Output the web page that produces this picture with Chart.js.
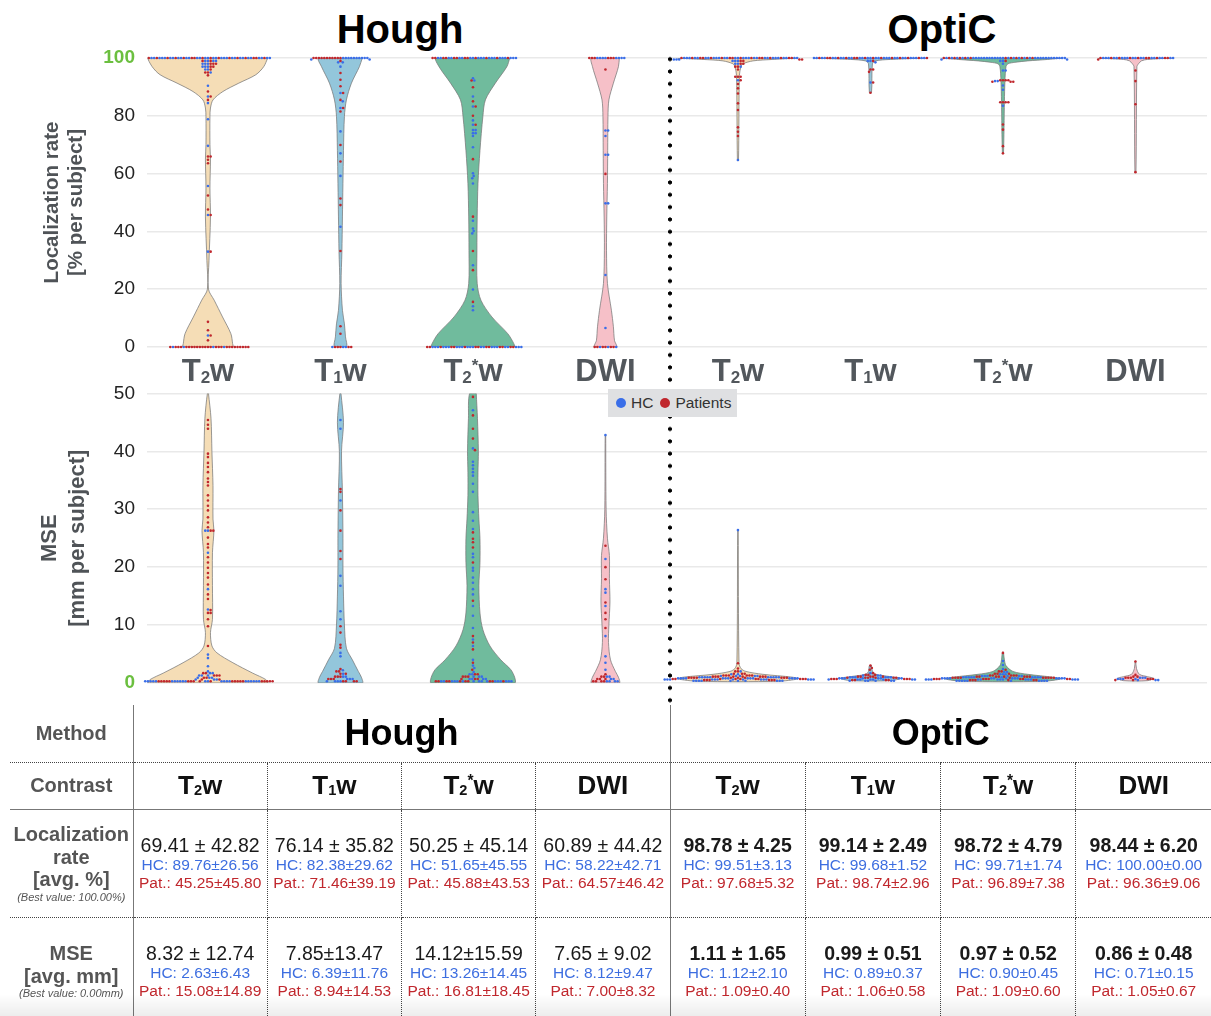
<!DOCTYPE html>
<html>
<head>
<meta charset="utf-8">
<script src="https://cdn.jsdelivr.net/npm/chart.js@4.4.1/dist/chart.umd.min.js"></script>
<style>
  body { margin: 0; width: 1211px; height: 1016px; position: relative; overflow: hidden; background: #fff;
         font-family: 'Liberation Sans', Arial, sans-serif; }
  canvas { position: absolute; left: 0; }
  .ttl { position: absolute; top: 9px; width: 300px; text-align: center; font: bold 40px/40px 'Liberation Sans', Arial, sans-serif; color: #000; }
  #sep { position: absolute; left: 668px; top: 53px; width: 4px; height: 654px;
         background: radial-gradient(circle, #000 1.7px, rgba(0,0,0,0) 2.3px); background-size: 4px 12.33px; }
  #legend { position: absolute; left: 608px; top: 389px; width: 129px; height: 28px; background: #dfe0e2;
            display: flex; align-items: center; font-size: 15.5px; color: #333; }
  #legend .dot { display: inline-block; width: 10px; height: 10px; border-radius: 50%; margin: 0 5px 0 8px; }
  #tbl { position: absolute; left: 10px; top: 705px; width: 1201px; border-collapse: collapse; table-layout: fixed; }
  #tbl td { padding: 0; text-align: center; vertical-align: middle; overflow: hidden; white-space: nowrap; }
  #tbl td.lab { color: #555; font-weight: bold; font-size: 20px; line-height: 22.5px; border-right: 1.5px solid #777; }
  #tbl td.lab i { display: block; font-weight: normal; font-size: 11px; line-height: 12px; }
  #tbl td.meth { font-weight: bold; font-size: 36px; color: #000; }
  #tbl td.hd { font-weight: bold; font-size: 26px; color: #111; }
  #tbl td.dv { border-right: 1px dotted #444; }
  #tbl td.sv { border-right: 1.5px solid #777; }
  #tbl tr.r1 td { border-bottom: 1px dotted #444; }
  #tbl tr.r2 td { border-bottom: 1.5px solid #777; }
  #tbl tr.r3 td { border-bottom: 1px dotted #444; }
  #tbl tr.r4 td.val, #tbl tr.r4 td.lab { padding-top: 8px; }
  .m { font-size: 19.5px; line-height: 22px; color: #1a1a1a; }
  .m.b { font-weight: bold; }
  .hc { font-size: 15.5px; line-height: 18px; color: #3d6ee0; }
  .pt { font-size: 15.5px; line-height: 18px; color: #c0272d; }
  .sb { font-size: .56em; position: relative; top: .1em; }
  .sp { font-size: .6em; position: relative; top: -.5em; }
  #fade { position: absolute; left: 0; top: 994px; width: 1211px; height: 22px;
          background: linear-gradient(to bottom, rgba(0,0,0,0), rgba(0,0,0,0.07)); }
</style>
</head>
<body>
<div class="ttl" style="left:250px">Hough</div>
<div class="ttl" style="left:792px">OptiC</div>
<canvas id="lr" width="1211" height="400" style="top:0"></canvas>
<canvas id="mse" width="1211" height="337" style="top:370px"></canvas>
<div id="sep"></div>
<div id="legend"></div>
<table id="tbl"></table>
<div id="fade"></div>
<script>
// ---- data ----
const methods = ['Hough', 'OptiC'];
const contrasts = ['T_2w', 'T_1w', 'T_2^*w', 'DWI'];
const groups = ['HC', 'Patients'];
const lrTicks = [0, 20, 40, 60, 80, 100];
const mseTicks = [0, 10, 20, 30, 40, 50];

// swarm points, per category: [value, number of subjects at that value]
const lrHC = [
  [[100,30],[99,4],[98,3],[97,3],[96,2],[95,1],[90.4,1],[86.7,1],[84.4,1],[78.8,1],[69.6,1],[55.7,1],[45.7,1],[33,1],[4,1],[0,4]],
  [[100,10],[99.5,2],[98.5,2],[97,1],[87.9,1],[85,1],[82.7,1],[74.6,1],[67,1],[59.2,1],[41.6,1],[0,3]],
  [[100,20],[93,1],[92.2,1],[86.7,1],[83.2,1],[78.4,1],[76.9,1],[75.1,2],[74,2],[73,1],[69.1,1],[60.1,1],[59.2,1],[58.4,1],[56.6,1],[43.7,1],[41,1],[40.1,1],[39.3,1],[28.3,1],[19.9,1],[14.1,1],[12.7,1],[0,22]],
  [[100,8],[74.9,2],[73,1],[66.5,2],[49.7,2],[24.9,1],[6.6,1],[0,3]],
  [[100,28],[99.5,3],[99,3],[98,2],[97,1],[92.3,1],[64.7,1]],
  [[100,28],[99,2],[98.5,1],[91.5,1]],
  [[100,34],[99.5,2],[99,2],[98,1],[95.7,2],[92,2],[90.5,1],[89,1],[83.5,1]],
  [[100,18]]
];
const lrPat = [
  [[100,16],[99,2],[98,3],[97,2],[96,1],[95,2],[94,1],[88.4,1],[86.7,1],[85.5,1],[65.9,2],[64.8,1],[63.6,1],[52.4,1],[47.6,1],[45.7,1],[33,1],[8.7,1],[5.8,1],[4,1],[2.3,1],[0,26]],
  [[100,11],[99,1],[94.8,1],[92.5,1],[90.2,1],[87.9,1],[85.5,1],[82.7,1],[81.5,1],[69.9,1],[64.2,1],[51.4,1],[49.1,1],[33.2,1],[7.2,1],[4.6,1],[0,5]],
  [[100,12],[92.2,1],[89.9,1],[85,1],[83.2,1],[80,1],[76.9,1],[65,1],[45.1,1],[33.2,1],[26.6,1],[15.6,1],[0,14]],
  [[100,6],[96,1],[59.9,1],[0,6]],
  [[100,16],[99.5,2],[99,2],[98,2],[97,2],[96,1],[93.5,3],[92.3,1],[91,1],[89.5,1],[87.7,1],[84.3,1],[82,1],[76,1],[74.5,1],[73,1]],
  [[100,15],[99,1],[96,2],[95.2,1],[91.5,1],[88,1]],
  [[100,12],[99,1],[92.3,4],[91.8,3],[84.7,4],[77,1],[75.2,1],[69.5,1],[67,1]],
  [[100,10],[99.5,1],[95.7,1],[92,1],[84,1],[60.5,1]]
];
const mseHC = [
  [[0.3,24],[0.6,3],[0.9,3],[1.3,3],[1.7,2],[2,1],[2.9,1],[4.3,1],[4.9,1],[12.7,1],[16.2,1],[22.5,1],[26.3,2]],
  [[0.3,4],[0.7,3],[1.1,2],[1.6,1],[2.2,1],[4.6,1],[5.2,1],[11,1],[12.4,1],[16.8,1],[18.5,1],[31.5,1],[43.9,1],[45.4,1]],
  [[0.3,16],[0.7,4],[1.1,3],[1.5,2],[1.9,1],[2.6,1],[3,1],[4,1],[6.4,1],[7.5,1],[9.5,1],[11.6,1],[13.3,1],[15.3,1],[16.2,1],[17.3,1],[18.2,1],[19.4,1],[19.9,1],[21.7,1],[22.3,1],[26.6,1],[28,1],[29.5,1],[33,1],[34.4,1],[35.8,1],[36.4,1],[37,1],[37.6,1],[38.2,1],[40.5,1],[47.1,1]],
  [[0.3,4],[0.7,2],[1.1,2],[2.3,1],[3.5,1],[4.6,1],[8.1,1],[13.3,1],[15.6,1],[16.2,1],[21.4,1],[42.8,1]],
  [[0.4,10],[0.6,14],[0.8,14],[1,10],[1.2,5],[1.5,2],[2,1],[26.4,1]],
  [[0.4,6],[0.6,8],[0.8,8],[1,6],[1.3,3],[1.7,1]],
  [[0.4,10],[0.6,14],[0.8,14],[1,10],[1.2,6],[1.5,3],[1.9,2],[2.4,1],[3.1,1],[3.8,1]],
  [[0.5,3],[0.7,4],[0.9,3]]
];
const msePat = [
  [[0.3,20],[0.6,2],[0.9,2],[1.3,3],[1.7,2],[6.4,1],[9.8,1],[11,1],[12.1,2],[12.6,1],[14.5,1],[15.3,1],[17,1],[18.2,1],[19,1],[19.9,1],[20.8,1],[21.7,1],[23.4,1],[24,1],[25.1,1],[26.3,2],[26.9,1],[27.7,1],[28.6,1],[29.8,1],[30.6,1],[31.5,1],[32.4,1],[34.1,1],[34.7,1],[35.3,1],[36.4,1],[37.3,1],[38,1],[39,1],[39.6,1],[43.9,1],[44.6,1],[45.4,1]],
  [[0.3,4],[0.7,3],[1.1,3],[1.6,2],[2,2],[2.4,1],[6.1,1],[6.6,1],[8.7,1],[9.8,1],[21.4,1],[22.8,1],[26.3,1],[29.8,1],[33,1],[33.5,1]],
  [[0.3,10],[0.7,3],[1.1,3],[1.5,2],[2.3,1],[3.5,1],[5.8,1],[7,1],[8.1,1],[14.2,1],[20.8,1],[23.4,1],[24.3,1],[24.9,1],[26,1],[40.2,1],[42.2,1],[43.9,1],[46.2,1],[49.4,1]],
  [[0.3,4],[0.7,3],[1.1,2],[1.5,1],[9.5,1],[11,1],[12.1,1],[13.9,1],[17.9,1],[20,1],[23.7,1]],
  [[0.5,6],[0.7,10],[0.9,10],[1.1,8],[1.3,6],[1.6,3],[2,2],[2.5,1],[3.4,1]],
  [[0.5,4],[0.7,6],[0.9,6],[1.1,5],[1.4,3],[1.7,1],[2.3,1],[2.6,1],[3,1]],
  [[0.5,6],[0.7,10],[0.9,10],[1.1,8],[1.3,5],[1.6,3],[2,2],[2.3,1],[5.2,1]],
  [[0.5,2],[0.7,3],[0.9,3],[1.1,2],[1.4,1],[3.7,1]]
];

// violin outlines: [value, half width in category units]
const lrShape = [
  [[100,.451],[97,.421],[94.2,.361],[91.3,.233],[88.4,.113],[85.5,.038],[82.7,.019],[79.8,.015],[70,.015],[65,.019],[55,.015],[45,.019],[30,.008],[20,.004],[16.2,.047],[10.4,.11],[4.6,.173],[1.2,.186],[0,.188]],
  [[100,.165],[97,.143],[91.3,.083],[85.5,.045],[79.8,.03],[68,.023],[45,.015],[33,.011],[22,.005],[12.7,.015],[8,.03],[3.5,.038],[0,.045]],
  [[100,.278],[97,.256],[91.3,.169],[85.5,.094],[79.8,.075],[68,.053],[56.6,.038],[45,.032],[33.5,.03],[22,.032],[16.2,.06],[10.4,.143],[4.6,.263],[1.2,.308],[0,.313]],
  [[100,.105],[97,.098],[91.3,.06],[85.5,.026],[79.8,.019],[68,.017],[56.6,.015],[45,.01],[33.5,.008],[22,.015],[12.7,.045],[7,.06],[2.3,.068],[0,.083]],
  [[100,.451],[99.5,.263],[99,.113],[98,.038],[97,.023],[94,.011],[64.5,.004]],
  [[100,.421],[99.5,.15],[99,.038],[98,.015],[88,.008]],
  [[100,.451],[99.5,.338],[99,.188],[98.5,.09],[98,.038],[97,.023],[92,.015],[85,.011],[67,.004]],
  [[100,.278],[99.5,.09],[99,.045],[98,.023],[97,.011],[60.5,.004]]
];
const mseShape = [
  [[50,.004],[45.7,.023],[39.9,.03],[34.1,.038],[28.3,.038],[26.3,.045],[22.5,.034],[16.8,.034],[11,.034],[8.7,.019],[6.4,.03],[5.2,.068],[3.5,.188],[1.7,.338],[0.6,.436],[0,.451]],
  [[50,.004],[45,.023],[40,.008],[33,.015],[25,.019],[20,.019],[15,.023],[10,.03],[6,.045],[4,.09],[2,.135],[1,.158],[0,.165]],
  [[50,.025],[45.7,.034],[40,.041],[36.4,.038],[32.4,.038],[28.3,.045],[24.9,.053],[20.8,.053],[16.8,.045],[12.1,.053],[9.2,.075],[6.4,.128],[4,.21],[2.3,.286],[0.9,.316],[0,.316]],
  [[42.8,.002],[30,.005],[25,.015],[22,.03],[18,.03],[14,.034],[10,.026],[7,.023],[4,.038],[2,.075],[1,.098],[0,.105]],
  [[26.4,.002],[3.5,.008],[2.5,.023],[2,.06],[1.5,.188],[1,.413],[0.7,.451],[0.3,.3]],
  [[3,.008],[2,.015],[1.5,.038],[1.1,.15],[0.8,.226],[0.4,.15]],
  [[5.3,.004],[4,.011],[3,.023],[2,.075],[1.5,.188],[1,.376],[0.7,.436],[0.3,.3]],
  [[3.8,.002],[2.5,.008],[1.5,.03],[1.1,.09],[0.8,.135],[0.4,.09]]
];

// table values
const lrMean = ['69.41 ± 42.82','76.14 ± 35.82','50.25 ± 45.14','60.89 ± 44.42','98.78 ± 4.25','99.14 ± 2.49','98.72 ± 4.79','98.44 ± 6.20'];
const lrHCStat = ['89.76±26.56','82.38±29.62','51.65±45.55','58.22±42.71','99.51±3.13','99.68±1.52','99.71±1.74','100.00±0.00'];
const lrPatStat = ['45.25±45.80','71.46±39.19','45.88±43.53','64.57±46.42','97.68±5.32','98.74±2.96','96.89±7.38','96.36±9.06'];
const mseMean = ['8.32 ± 12.74','7.85±13.47','14.12±15.59','7.65 ± 9.02','1.11 ± 1.65','0.99 ± 0.51','0.97 ± 0.52','0.86 ± 0.48'];
const mseHCStat = ['2.63±6.43','6.39±11.76','13.26±14.45','8.12±9.47','1.12±2.10','0.89±0.37','0.90±0.45','0.71±0.15'];
const msePatStat = ['15.08±14.89','8.94±14.53','16.81±18.45','7.00±8.32','1.09±0.40','1.06±0.58','1.09±0.60','1.05±0.67'];

// ---- styles ----
const violinColors = ['#f5ddb6', '#93c6db', '#70bb9d', '#f6c0c8'];
const groupColors = ['#3a6ee8', '#c0272d'];
const green = '#6bbf3f';
const FONT = "'Liberation Sans', Arial, sans-serif";
const PX_X = 133;     // pixels per category on the x axis
const DOT = 2.7;      // swarm spacing in px

function violin(center, shape) {
  const right = shape.map(([v, w]) => ({x: center + w, y: v}));
  const left = shape.slice().reverse().map(([v, w]) => ({x: center - w, y: v}));
  return right.concat(left, [right[0]]);
}

// simple beeswarm: points sorted by value, each placed at the free x offset nearest the centre
function swarm(center, lists, pxY) {
  const pts = [];
  lists.forEach((list, g) => list.forEach(([v, c]) => {
    for (let j = 0; j < c; j++) pts.push({v, g, key: (j + 0.5) / c});
  }));
  pts.sort((a, b) => b.v - a.v || a.key - b.key);
  const placed = [];
  pts.forEach(p => {
    p.py = p.v * pxY;
    const near = placed.filter(q => Math.abs(q.py - p.py) < DOT);
    const cands = [0];
    near.forEach(q => {
      const dx = Math.sqrt(DOT * DOT - (q.py - p.py) ** 2);
      cands.push(q.px + dx, q.px - dx);
    });
    cands.sort((a, b) => Math.abs(a) - Math.abs(b));
    p.px = cands.find(c => near.every(q => (q.px - c) ** 2 + (q.py - p.py) ** 2 >= DOT * DOT - 1e-6));
    placed.push(p);
  });
  return lists.map((_, g) => pts.filter(p => p.g === g).map(p => ({x: center + p.px / PX_X, y: p.v})));
}

function buildDatasets(shapes, hc, pat, pxY) {
  const ds = [];
  const pointSets = [[], []];
  shapes.forEach((shape, i) => {
    ds.push({
      type: 'line', data: violin(i, shape), order: 2,
      backgroundColor: violinColors[i % 4], borderColor: 'rgba(120,120,120,0.75)', borderWidth: 1,
      fill: 'shape', tension: 0.3, pointRadius: 0, clip: 0
    });
    const sw = swarm(i, [hc[i], pat[i]], pxY);
    pointSets[0].push(...sw[0]);
    pointSets[1].push(...sw[1]);
  });
  pointSets.forEach((pts, g) => ds.push({
    type: 'scatter', label: groups[g], data: pts, order: g === 0 ? 1 : 0,
    backgroundColor: groupColors[g], borderWidth: 0, pointRadius: 1.3, clip: false
  }));
  return ds;
}

function labelParts(s) {
  const parts = [];
  for (let i = 0; i < s.length; i++) {
    if (s[i] === '_' || s[i] === '^') { parts.push({t: s[i + 1], k: s[i]}); i++; }
    else if (parts.length && parts[parts.length - 1].k === '') parts[parts.length - 1].t += s[i];
    else parts.push({t: s[i], k: ''});
  }
  return parts;
}

// contrast names between the two panels
const catLabels = {
  id: 'catLabels',
  afterDraw(chart) {
    const {ctx, chartArea, scales: {x}} = chart;
    const size = 31, y = chartArea.bottom + 34;
    ctx.save();
    ctx.fillStyle = '#52575c';
    ctx.textBaseline = 'alphabetic';
    ctx.textAlign = 'left';
    for (let i = 0; i < 8; i++) {
      const parts = labelParts(contrasts[i % 4]);
      const fonts = parts.map(p => 'bold ' + (p.k ? Math.round(size * 0.56) : size) + 'px ' + FONT);
      let total = 0;
      const widths = parts.map((p, j) => { ctx.font = fonts[j]; const w = ctx.measureText(p.t).width; total += w; return w; });
      let cx = x.getPixelForValue(i) - total / 2;
      parts.forEach((p, j) => {
        ctx.font = fonts[j];
        const dy = p.k === '_' ? size * 0.07 : p.k === '^' ? -size * 0.32 : 0;
        ctx.fillText(p.t, cx, y + dy);
        cx += widths[j];
      });
    }
    ctx.restore();
  }
};

function makeChart(id, cfg) {
  return new Chart(document.getElementById(id), {
    type: 'scatter',
    data: {datasets: buildDatasets(cfg.shapes, cfg.hc, cfg.pat, cfg.pxY)},
    options: {
      responsive: false, animation: false, events: [],
      layout: {padding: {top: cfg.padTop, bottom: cfg.padBottom, left: 0, right: 0}},
      plugins: {legend: {display: false}, tooltip: {enabled: false}},
      scales: {
        x: {type: 'linear', min: -0.46, max: 7.54, display: false},
        y: {
          min: 0, max: cfg.max,
          afterBuildTicks: s => { s.ticks = cfg.ticks.map(v => ({value: v})); },
          afterFit: s => { s.width = 147; },
          grid: {color: '#e9e9e9', lineWidth: 1.5, drawTicks: false},
          border: {display: false},
          ticks: {
            padding: 12,
            color: c => c.tick && c.tick.value === cfg.greenTick ? green : '#222',
            font: c => ({family: FONT, size: 19, weight: c.tick && c.tick.value === cfg.greenTick ? 'bold' : 'normal'})
          },
          title: {
            display: true, text: cfg.title, color: '#4f5357',
            font: {family: FONT, size: cfg.titleSize, weight: 'bold', lineHeight: cfg.titleLH},
            padding: {top: cfg.titlePad, bottom: 0}
          }
        }
      }
    },
    plugins: cfg.plugins || []
  });
}

makeChart('lr', {
  shapes: lrShape, hc: lrHC, pat: lrPat, pxY: 289 / 100, max: 100, ticks: lrTicks, greenTick: 100,
  padTop: 58, padBottom: 53, title: ['Localization rate', '[% per subject]'],
  titleSize: 20.5, titleLH: 24 / 20.5, titlePad: 40, plugins: [catLabels]
});
makeChart('mse', {
  shapes: mseShape, hc: mseHC, pat: msePat, pxY: 290 / 50, max: 50, ticks: mseTicks, greenTick: 0,
  padTop: 23, padBottom: 24, title: ['MSE', '[mm per subject]'],
  titleSize: 22, titleLH: 28 / 22, titlePad: 36
});

// legend
document.getElementById('legend').innerHTML = groups.map((g, i) =>
  '<span class="dot" style="background:' + groupColors[i] + (i ? ';margin-left:7px' : '') + '"></span><span>' + g + '</span>').join('');

// table
function cHTML(s) {
  return s.replace(/_(.)/g, '<span class="sb">$1</span>').replace(/\^(.)/g, '<span class="sp">$1</span>');
}
function colClass(i) { return i === 3 ? 'sv' : i === 7 ? '' : 'dv'; }
function statCells(mean, hcS, patS) {
  return mean.map((m, i) => '<td class="val ' + colClass(i) + '"><div class="m' + (i >= 4 ? ' b' : '') + '">' + m +
    '</div><div class="hc">HC: ' + hcS[i] + '</div><div class="pt">Pat.: ' + patS[i] + '</div></td>').join('');
}
let html = '<colgroup><col style="width:123px">' + '<col style="width:134.25px">'.repeat(4) +
  '<col style="width:135.25px">'.repeat(4) + '</colgroup>';
html += '<tr class="r1" style="height:57px"><td class="lab">Method</td>' +
  methods.map((m, i) => '<td colspan="4" class="meth ' + (i === 0 ? 'sv' : '') + '">' + m + '</td>').join('') + '</tr>';
html += '<tr class="r2" style="height:47px"><td class="lab">Contrast</td>' +
  [0,1,2,3,4,5,6,7].map(i => '<td class="hd ' + colClass(i) + '">' + cHTML(contrasts[i % 4]) + '</td>').join('') + '</tr>';
html += '<tr class="r3" style="height:108px"><td class="lab">Localization<br>rate<br>[avg. %]<i>(Best value: 100.00%)</i></td>' +
  statCells(lrMean, lrHCStat, lrPatStat) + '</tr>';
html += '<tr class="r4" style="height:99px"><td class="lab">MSE<br>[avg. mm]<i>(Best value: 0.00mm)</i></td>' +
  statCells(mseMean, mseHCStat, msePatStat) + '</tr>';
document.getElementById('tbl').innerHTML = html;
</script>
</body>
</html>
